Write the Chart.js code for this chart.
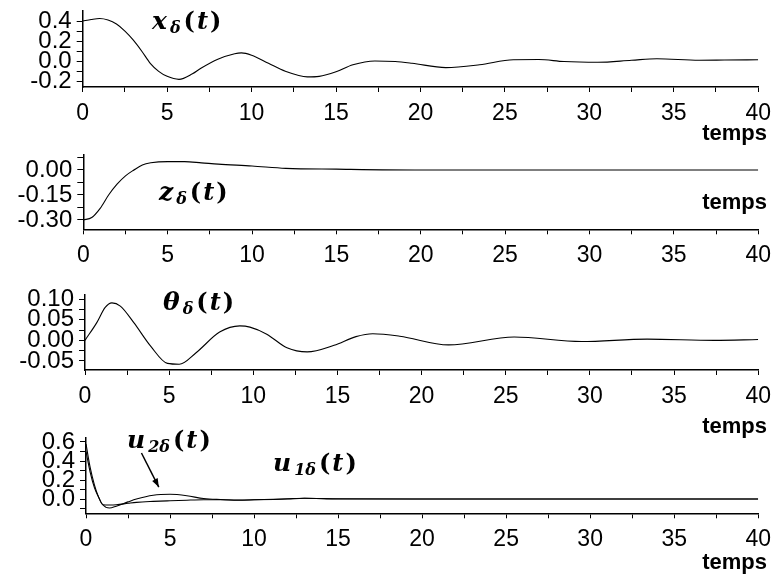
<!DOCTYPE html>
<html>
<head>
<meta charset="utf-8">
<script src="https://cdn.jsdelivr.net/npm/chart.js@4.4.1/dist/chart.umd.min.js"></script>
<style>
  html, body { margin: 0; padding: 0; background: #fff; }
  #wrap { position: relative; width: 779px; height: 579px; overflow: hidden; }
  .panel { position: absolute; left: 0; width: 779px; }
</style>
</head>
<body>
<div id="wrap"></div>
<script>
// values
const tX = [0, 0.5, 1, 1.5, 2, 2.5, 3, 3.5, 4, 4.5, 5, 5.7, 6.5, 7, 8, 9, 9.4, 10, 11, 12, 13.3, 14, 15, 16, 17.3, 18.5, 19.5, 21.5, 23.5, 25.5, 27, 28.5, 30.5, 32.5, 34, 36.5, 38, 40];
const xDelta = [0.40, 0.415, 0.425, 0.41, 0.37, 0.30, 0.21, 0.10, -0.02, -0.10, -0.15, -0.18, -0.125, -0.07, 0.02, 0.075, 0.083, 0.06, -0.02, -0.10, -0.155, -0.15, -0.105, -0.035, 0.003, -0.003, -0.02, -0.063, -0.035, 0.015, 0.017, -0.003, -0.01, 0.01, 0.025, 0.01, 0.012, 0.015];

const tZ = [0, 0.5, 1, 1.5, 2, 2.5, 3, 3.5, 4, 5, 6, 7, 8, 10, 12, 15, 20, 25, 30, 35, 40];
const zDelta = [-0.30, -0.285, -0.23, -0.15, -0.085, -0.035, 0.0, 0.03, 0.043, 0.05, 0.05, 0.043, 0.035, 0.024, 0.01, 0.005, 0.0, 0.0, 0.0, 0.0, 0.0];

const tTh = [0, 0.7, 1.2, 1.6, 2.1, 2.9, 3.9, 4.9, 5.6, 6.6, 8, 9.2, 9.8, 10.8, 12, 13.2, 14.8, 16.1, 17.1, 18.7, 21.6, 25.5, 29.5, 33.4, 37.4, 40];
const thDelta = [0.0, 0.043, 0.08, 0.091, 0.083, 0.043, -0.014, -0.056, -0.058, -0.03, 0.02, 0.035, 0.032, 0.015, -0.018, -0.028, -0.012, 0.009, 0.016, 0.010, -0.011, 0.008, -0.003, 0.003, 0.0, 0.002];

const tU = [0, 0.25, 0.5, 0.75, 1, 1.4, 1.8, 2.5, 3, 4, 5, 6, 7, 8, 9, 10, 12, 13, 15, 20, 25, 30, 35, 40];
const u1Delta = [0.50, 0.28, 0.12, 0.02, -0.06, -0.062, -0.06, -0.045, -0.035, -0.025, -0.018, -0.012, -0.008, -0.008, -0.012, -0.008, 0.003, 0.008, 0.003, 0.0, 0.0, 0.0, 0.0, 0.0];
const u2Delta = [0.58, 0.33, 0.15, 0.02, -0.06, -0.095, -0.075, -0.03, 0.0, 0.04, 0.05, 0.035, 0.005, -0.005, -0.01, -0.008, 0.0, 0.008, 0.0, 0.0, 0.0, 0.0, 0.0, 0.0];

// ticks
const xMajor = [0, 5, 10, 15, 20, 25, 30, 35, 40];
const xMinor = [2.5, 7.5, 12.5, 17.5, 22.5, 27.5, 32.5, 37.5];
const yMajorX = [-0.2, 0, 0.2, 0.4], yMinorX = [-0.1, 0.1, 0.3];
const yMajorZ = [-0.3, -0.15, 0], yMinorZ = [-0.225, -0.075, 0.075];
const yMajorTh = [-0.05, 0, 0.05, 0.1], yMinorTh = [-0.025, 0.025, 0.075];
const yMajorU = [0, 0.2, 0.4, 0.6], yMinorU = [-0.1, 0.1, 0.3, 0.5];

const wrap = document.getElementById("wrap");
const isIn = (arr, v) => arr.some(a => Math.abs(a - v) < 1e-9);

// italic label like  x_δ(t)
function drawMath(ctx, x, y, base, sub) {
  ctx.fillStyle = "#000";
  ctx.textAlign = "left";
  ctx.textBaseline = "alphabetic";
  ctx.font = "bold italic 25px 'DejaVu Serif'";
  ctx.fillText(base, x, y);
  x += ctx.measureText(base).width + 3;
  ctx.font = "bold italic 16px 'DejaVu Serif'";
  ctx.fillText(sub, x, y + 4);
  x += ctx.measureText(sub).width + 3;
  ctx.font = "bold 24px 'DejaVu Serif'";
  ctx.fillText("(", x, y);
  x += ctx.measureText("(").width + 2;
  ctx.font = "bold italic 24px 'DejaVu Serif'";
  ctx.fillText("t", x, y);
  x += ctx.measureText("t").width + 2;
  ctx.font = "bold 24px 'DejaVu Serif'";
  ctx.fillText(")", x, y);
}

function makePanel(p) {
  const oy = p.top - 30;
  const div = document.createElement("div");
  div.className = "panel";
  div.style.top = oy + "px";
  div.style.height = (p.bottom - p.top + 100) + "px";
  const cv = document.createElement("canvas");
  div.appendChild(cv);
  wrap.appendChild(div);

  const notes = {
    id: "notes" + p.name,
    afterDraw(chart) {
      const ctx = chart.ctx;
      ctx.save();
      ctx.fillStyle = "#000";
      ctx.font = "bold 22px 'Liberation Sans'";
      ctx.textAlign = "right";
      ctx.textBaseline = "middle";
      ctx.fillText("temps", 767, p.tempsY - oy);
      p.labels.forEach(l => drawMath(ctx, l.x, l.y - oy, l.base, l.sub));
      if (p.arrow) {
        const xs = chart.scales.x, ys = chart.scales.y;
        const x0 = xs.getPixelForValue(p.arrow[0]), y0 = ys.getPixelForValue(p.arrow[1]);
        const x1 = xs.getPixelForValue(p.arrow[2]), y1 = ys.getPixelForValue(p.arrow[3]);
        const a = Math.atan2(y1 - y0, x1 - x0);
        ctx.strokeStyle = "#000";
        ctx.lineWidth = 1.5;
        ctx.beginPath();
        ctx.moveTo(x0, y0);
        ctx.lineTo(x1, y1);
        ctx.stroke();
        ctx.beginPath();
        ctx.moveTo(x1, y1);
        ctx.lineTo(x1 - 9 * Math.cos(a - 0.35), y1 - 9 * Math.sin(a - 0.35));
        ctx.lineTo(x1 - 9 * Math.cos(a + 0.35), y1 - 9 * Math.sin(a + 0.35));
        ctx.closePath();
        ctx.fill();
      }
      ctx.restore();
    }
  };

  new Chart(cv, {
    type: "line",
    data: {
      datasets: p.series.map(s => ({
        data: s.t.map((tt, i) => ({ x: tt, y: s.v[i] })),
        borderColor: "#000",
        borderWidth: 1.1,
        pointRadius: 0,
        cubicInterpolationMode: "monotone",
        fill: false
      }))
    },
    options: {
      animation: false,
      responsive: true,
      maintainAspectRatio: false,
      layout: { padding: { top: 30, left: 0, right: 779 - p.right, bottom: 0 } },
      plugins: { legend: { display: false }, tooltip: { enabled: false } },
      scales: {
        x: {
          type: "linear",
          min: 0,
          max: 40,
          afterBuildTicks: s => { s.ticks = xMajor.concat(xMinor).sort((a, b) => a - b).map(v => ({ value: v })); },
          afterFit: s => { s.height = 70; },
          ticks: {
            autoSkip: false,
            maxRotation: 0,
            padding: 8,
            color: "#000",
            font: { family: "'Liberation Sans'", size: 23 },
            callback: v => (isIn(xMajor, v) ? String(v) : "")
          },
          grid: { drawOnChartArea: false, tickLength: 5, color: "#000" },
          border: { color: "#000", width: 1.5 }
        },
        y: {
          type: "linear",
          min: p.ymin,
          max: p.ymax,
          afterBuildTicks: s => { s.ticks = p.major.concat(p.minor).sort((a, b) => a - b).map(v => ({ value: v })); },
          afterFit: s => { s.width = p.left; },
          ticks: {
            autoSkip: false,
            padding: 5,
            color: "#000",
            font: { family: "'Liberation Sans'", size: 24 },
            callback: v => (isIn(p.major, v) ? v.toFixed(p.dec) : "")
          },
          grid: { drawOnChartArea: false, tickLength: 6, color: "#000" },
          border: { color: "#000", width: 1.5 }
        }
      }
    },
    plugins: [notes]
  });
}

makePanel({
  name: "x", top: 10.7, bottom: 86.7, left: 82.7, right: 759, ymin: -0.256, ymax: 0.5,
  major: yMajorX, minor: yMinorX, dec: 1, tempsY: 134,
  series: [{ t: tX, v: xDelta }],
  labels: [{ x: 152, y: 29, base: "x", sub: "δ" }]
});
makePanel({
  name: "z", top: 155, bottom: 229.3, left: 83.3, right: 759, ymin: -0.356, ymax: 0.09,
  major: yMajorZ, minor: yMinorZ, dec: 2, tempsY: 203,
  series: [{ t: tZ, v: zDelta }],
  labels: [{ x: 159, y: 200, base: "z", sub: "δ" }]
});
makePanel({
  name: "th", top: 295, bottom: 370, left: 85, right: 759.5, ymin: -0.072, ymax: 0.11,
  major: yMajorTh, minor: yMinorTh, dec: 2, tempsY: 427,
  series: [{ t: tTh, v: thDelta }],
  labels: [{ x: 163, y: 310, base: "θ", sub: "δ" }]
});
makePanel({
  name: "u", top: 438, bottom: 513.3, left: 86, right: 760, ymin: -0.15, ymax: 0.642,
  major: yMajorU, minor: yMinorU, dec: 1, tempsY: 563,
  series: [{ t: tU, v: u1Delta }, { t: tU, v: u2Delta }],
  labels: [{ x: 127, y: 448, base: "u", sub: "2δ" }, { x: 273, y: 471, base: "u", sub: "1δ" }],
  arrow: [3.3, 0.484, 4.33, 0.126]
});
</script>
</body>
</html>
